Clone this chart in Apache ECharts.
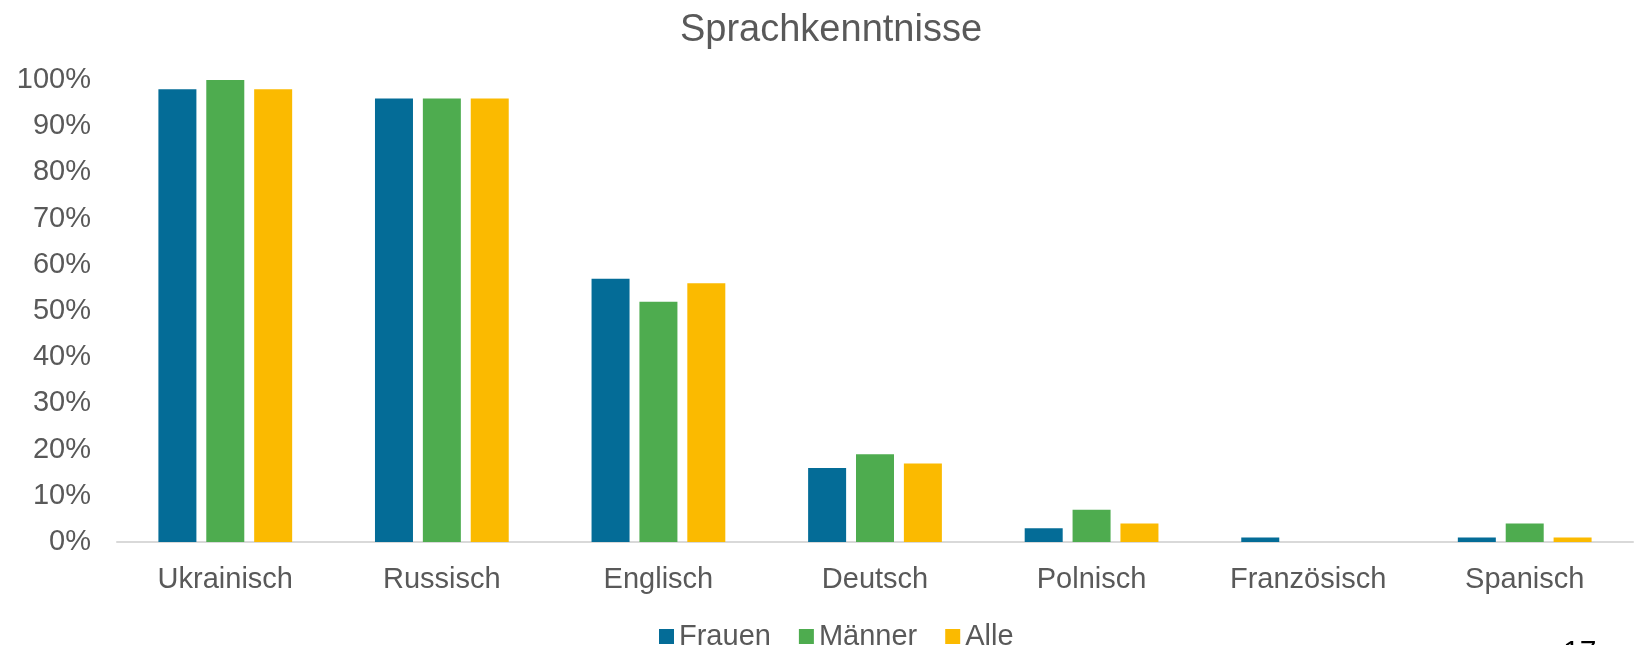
<!DOCTYPE html>
<html>
<head>
<meta charset="utf-8">
<script src="https://cdn.jsdelivr.net/npm/echarts@6/dist/echarts.min.js"></script>
<style>
  html, body { margin: 0; padding: 0; background: #fff; }
  #chart { width: 1640px; height: 645px; }
</style>
</head>
<body>
<div id="chart"></div>
<script>
const categories = ['Ukrainisch', 'Russisch', 'Englisch', 'Deutsch', 'Polnisch', 'Französisch', 'Spanisch']
const frauen = [98, 96, 57, 16, 3, 1, 1]
const maenner = [100, 96, 52, 19, 7, 0, 4]
const alle = [98, 96, 56, 17, 4, 0, 1]
const seriesNames = ['Frauen', 'Männer', 'Alle']
const colors = ['#046c97', '#4eac4f', '#fbba00']

const font = '"Liberation Sans", Arial, sans-serif'
const textColor = '#595959'

const myChart = echarts.init(document.getElementById('chart'), null, { renderer: 'canvas' })

const option = {
  backgroundColor: '#fff',
  color: colors,
  title: {
    text: 'Sprachkenntnisse',
    left: 826,
    textAlign: 'center',
    top: 7,
    textStyle: { fontFamily: font, fontSize: 38, fontWeight: 'normal', color: textColor }
  },
  legend: {
    left: 654,
    top: 617,
    itemWidth: 15,
    itemHeight: 15,
    itemGap: 28,
    icon: 'rect',
    textStyle: { fontFamily: font, fontSize: 29, color: textColor },
    data: seriesNames
  },
  grid: {
    left: 117,
    right: 7,
    top: 80,
    bottom: 103
  },
  xAxis: {
    type: 'category',
    data: categories,
    axisLine: { lineStyle: { color: '#d9d9d9', width: 2 } },
    axisTick: { show: false },
    axisLabel: { fontFamily: font, fontSize: 29, color: textColor, margin: 23 }
  },
  yAxis: {
    type: 'value',
    min: 0,
    max: 100,
    interval: 10,
    splitLine: { show: false },
    axisLine: { show: false },
    axisTick: { show: false },
    axisLabel: {
      fontFamily: font,
      fontSize: 29,
      color: textColor,
      margin: 26,
      formatter: '{value}%'
    }
  },
  graphic: [
    {
      type: 'text',
      left: 1563,
      top: 638,
      style: { text: '17', fontFamily: font, fontSize: 30, fill: '#000' }
    }
  ],
  series: [
    { name: seriesNames[0], type: 'bar', data: frauen, barWidth: 38, barGap: '26%' },
    { name: seriesNames[1], type: 'bar', data: maenner, barWidth: 38, barGap: '26%' },
    { name: seriesNames[2], type: 'bar', data: alle, barWidth: 38, barGap: '26%' }
  ]
}

myChart.setOption(option)
</script>
</body>
</html>
